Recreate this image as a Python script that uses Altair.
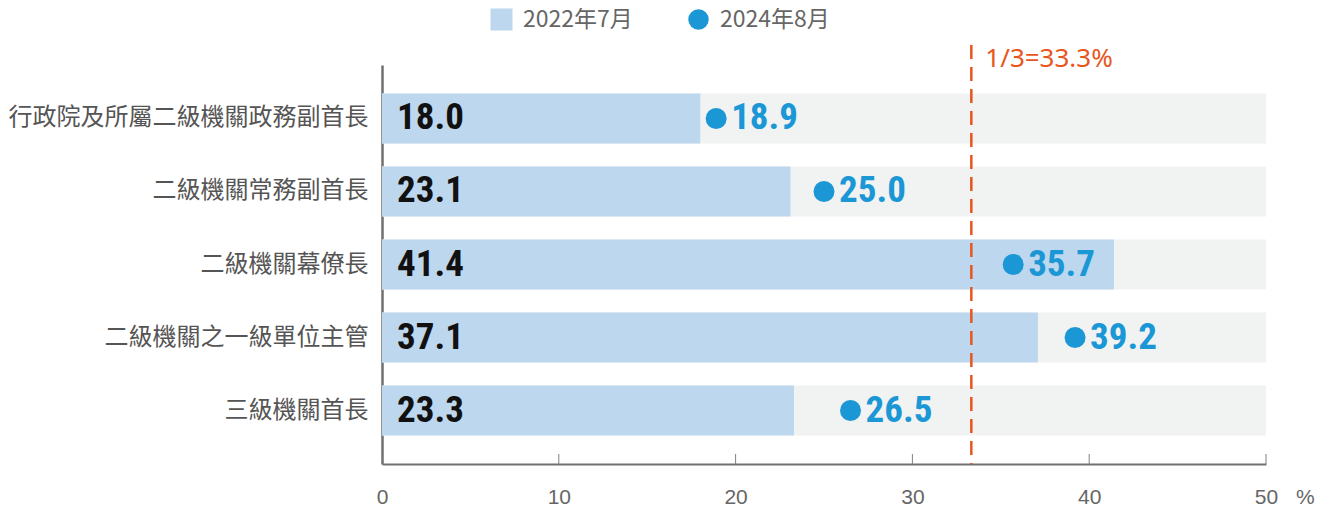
import altair as alt
import pandas as pd

categories = ["行政院及所屬二級機關政務副首長", "二級機關常務副首長", "二級機關幕僚長",
              "二級機關之一級單位主管", "三級機關首長"]
v2022 = [18.0, 23.1, 41.4, 37.1, 23.3]
v2024 = [18.9, 25.0, 35.7, 39.2, 26.5]
series = ["2022年7月", "2024年8月"]
axis_max = 50
tick_values = [0, 10, 20, 30, 40, 50]
threshold = [100 / 3]
threshold_label = "1/3=33.3%"
unit_label = "%"

W, H = 884, 399

df = pd.DataFrame({
    "cat": categories,
    "v2022": v2022,
    "v2024": v2024,
    "full": [axis_max] * len(categories),
    "zero": [0] * len(categories),
    "s2022": [series[0]] * len(categories),
    "s2024": [series[1]] * len(categories),
    "l2022": [f"{v:.1f}" for v in v2022],
    "l2024": [f"{v:.1f}" for v in v2024],
})
ticks_df = pd.DataFrame({"t": tick_values[1:]})
thr_df = pd.DataFrame({"t": threshold, "label": [threshold_label]})
unit_df = pd.DataFrame({"t": [axis_max], "label": [unit_label]})

CJK = "Noto Sans CJK TC"
NUM = "Roboto Condensed, Open Sans Condensed, Liberation Sans Narrow, Arial Narrow, Roboto"

xscale = alt.Scale(domain=[0, axis_max], nice=False, zero=True)
yscale = alt.Scale(paddingInner=0.315, paddingOuter=0.39)

X_axis = alt.Axis(values=tick_values, grid=False, ticks=False, domain=True,
                  domainColor="#707070", domainWidth=2, labelFont="Liberation Sans",
                  labelFontSize=21, labelColor="#666666", labelPadding=22,
                  labelFlush=False, title=None)
Y_axis = alt.Axis(title=None, ticks=False, domain=True, domainColor="#707070",
                  domainWidth=2.5, labelFont=CJK, labelFontSize=24, labelLimit=0,
                  labelColor="#555555", labelPadding=14, grid=False)

base = alt.Chart(df)
ysort = categories

bg = base.mark_bar(color="#f1f2f2").encode(
    x=alt.X("full:Q", scale=xscale, axis=X_axis),
    y=alt.Y("cat:N", sort=ysort, scale=yscale, axis=Y_axis),
)

bars = base.mark_bar().encode(
    x=alt.X("v2022:Q", scale=xscale),
    y=alt.Y("cat:N", sort=ysort),
    color=alt.Color("s2022:N", scale=alt.Scale(domain=[series[0]], range=["#bdd7ef"]),
                    legend=alt.Legend(title=None, orient="none", legendX=108, legendY=-57,
                                      symbolType="square", symbolSize=484,
                                      symbolStrokeWidth=0, labelFont=CJK,
                                      labelFontSize=23, labelColor="#666666",
                                      labelOffset=10, padding=0)),
)

dots = base.mark_circle(opacity=1, size=440).encode(
    x=alt.X("v2024:Q", scale=xscale),
    y=alt.Y("cat:N", sort=ysort),
    fill=alt.Fill("s2024:N", scale=alt.Scale(domain=[series[1]], range=["#1b97d5"]),
                  legend=alt.Legend(title=None, orient="none", legendX=305, legendY=-57,
                                    symbolType="circle", symbolSize=420,
                                    symbolStrokeWidth=0, labelFont=CJK,
                                    labelFontSize=23, labelColor="#666666",
                                    labelOffset=10, padding=0)),
)

lab22 = base.mark_text(align="left", baseline="middle", dx=15, font=NUM,
                       fontWeight="bold", fontSize=37, color="#111111").encode(
    x=alt.X("zero:Q", scale=xscale),
    y=alt.Y("cat:N", sort=ysort),
    text="l2022:N",
)

lab24 = base.mark_text(align="left", baseline="middle", dx=15, font=NUM,
                       fontWeight="bold", fontSize=37, color="#1b97d5").encode(
    x=alt.X("v2024:Q", scale=xscale),
    y=alt.Y("cat:N", sort=ysort),
    text="l2024:N",
)

tick_marks = alt.Chart(ticks_df).mark_rule(color="#808080", strokeWidth=1).encode(
    x=alt.X("t:Q", scale=xscale),
    y=alt.value(H - 10),
    y2=alt.value(H),
)

thr_rule = alt.Chart(thr_df).mark_rule(color="#e8561e", strokeWidth=2.5,
                                       strokeDash=[14, 8]).encode(
    x=alt.X("t:Q", scale=xscale),
    y=alt.value(-20),
    y2=alt.value(H),
)

thr_text = alt.Chart(thr_df).mark_text(align="left", baseline="middle", dx=14,
                                       font="Noto Sans", fontSize=26,
                                       color="#e8561e").encode(
    x=alt.X("t:Q", scale=xscale),
    y=alt.value(-6),
    text="label:N",
)

unit_text = alt.Chart(unit_df).mark_text(align="left", baseline="middle", dx=30,
                                         font="Liberation Sans", fontSize=21,
                                         color="#666666").encode(
    x=alt.X("t:Q", scale=xscale),
    y=alt.value(H + 34),
    text="label:N",
)

chart = alt.layer(bg, bars, thr_rule, dots, lab22, lab24, tick_marks, thr_text,
                  unit_text).resolve_scale(color="independent", fill="independent").properties(
    width=W, height=H,
    autosize=alt.AutoSizeParams(type="none"),
    padding={"left": 374, "top": 57, "right": 55, "bottom": 44},
).configure(background="white").configure_view(stroke=None)

chart.save("out.html", embed_options={"renderer": "svg", "actions": False})
